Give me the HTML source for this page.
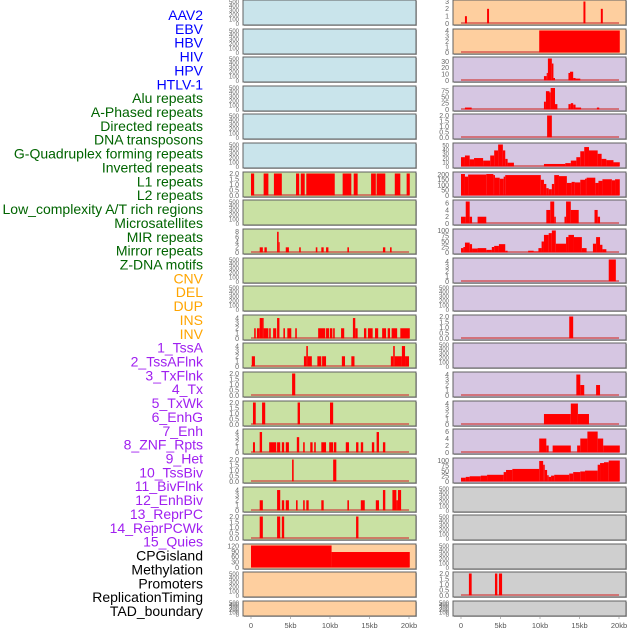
<!DOCTYPE html>
<html><head><meta charset="utf-8">
<style>
html,body{margin:0;padding:0;background:#fff;}
svg{display:block;font-family:"Liberation Sans",sans-serif;}
</style></head>
<body>
<svg id="chart" width="630" height="630" viewBox="0 0 630 630"></svg>
<script>
// ---- row labels ----
const labelTexts = ["AAV2","EBV","HBV","HIV","HPV","HTLV-1","Alu repeats","A-Phased repeats","Directed repeats","DNA transposons","G-Quadruplex forming repeats","Inverted repeats","L1 repeats","L2 repeats","Low_complexity A/T rich regions","Microsatellites","MIR repeats","Mirror repeats","Z-DNA motifs","CNV","DEL","DUP","INS","INV","1_TssA","2_TssAFlnk","3_TxFlnk","4_Tx","5_TxWk","6_EnhG","7_Enh","8_ZNF_Rpts","9_Het","10_TssBiv","11_BivFlnk","12_EnhBiv","13_ReprPC","14_ReprPCWk","15_Quies","CPGisland","Methylation","Promoters","ReplicationTiming","TAD_boundary"];
const labelGroups = ["v","v","v","v","v","v","r","r","r","r","r","r","r","r","r","r","r","r","r","s","s","s","s","s","c","c","c","c","c","c","c","c","c","c","c","c","c","c","c","k","k","k","k","k"];

// ---- x axis ----
const xTickValues = [0,5,10,15,20];
const xTickLabels = ["0","5kb","10kb","15kb","20kb"];

// ---- panels: left column ----
const leftBg = ["b","b","b","b","b","b","g","g","g","g","g","g","g","g","g","g","g","g","g","o","o","o"];
const leftYmax = [500,500,500,500,500,500,2,500,8.5,500,500,4.3,4.3,2,2,4.3,2,4.3,2,125,500,500];
const leftTicks = [
 [0,100,200,300,400,500],[0,100,200,300,400,500],[0,100,200,300,400,500],[0,100,200,300,400,500],[0,100,200,300,400,500],[0,100,200,300,400,500],
 ["0.0","0.5","1.0","1.5","2.0"],[0,100,200,300,400,500],[0,2,4,6,8],[0,100,200,300,400,500],[0,100,200,300,400,500],
 [0,1,2,3,4],[0,1,2,3,4],["0.0","0.5","1.0","1.5","2.0"],["0.0","0.5","1.0","1.5","2.0"],[0,1,2,3,4],["0.0","0.5","1.0","1.5","2.0"],[0,1,2,3,4],["0.0","0.5","1.0","1.5","2.0"],
 [0,30,60,90,120],[0,100,200,300,400,500],[0,100,200,300,400,500]];
const leftSegs = [
 [],[],[],[],[],[],
 [[0,0.4,2],[1.6,2.2,2],[2.9,3.9,2],[5.7,6.1,2],[6.3,6.8,2],[7,10.6,2],[11.6,12.7,2],[13,13.5,2],[15.2,15.8,2],[15.9,17,2],[18.2,18.9,2],[19.7,20.1,2]],
 [],
 [[1.1,1.5,2],[1.7,2,2],[3.3,3.5,8],[3.5,3.6,4],[4.4,4.8,2],[6.1,6.3,2],[8.2,8.4,2],[8.9,9.2,2],[9.5,9.8,2],[12.2,12.4,2],[16.7,17,2],[17.6,17.8,2]],
 [],[],
 [[0.4,0.6,2],[0.75,1.1,2],[1.1,1.4,4],[1.4,1.6,4],[1.6,2.2,2],[2.3,2.5,2],[2.8,3.2,2],[3.3,3.6,4],[4.1,4.3,2],[4.6,5.1,2],[5.6,5.8,2],[8.5,9.4,2],[9.5,9.9,2],[10,10.3,2],[10.4,10.6,2],[11.4,11.8,2],[12.9,13.2,4],[13.2,13.5,2],[14.3,14.6,2],[14.8,15.4,2],[15.7,16.1,2],[16.6,17.1,2],[17.3,17.6,2],[17.8,18.5,2],[18.9,20.1,2]],
 [[0.1,0.5,2],[6.7,7,2],[7,7.2,4],[7.2,7.7,2],[8.4,8.9,2],[9,9.5,2],[11.5,11.9,2],[12.7,13.1,2],[17.7,18,2],[18,18.2,4],[18.2,19.1,2],[19.1,19.5,4],[19.5,20,2]],
 [[5.2,5.6,2]],
 [[0.25,0.6,2],[1.4,1.8,2],[5.9,6.2,2],[10,10.4,2]],
 [[0.25,0.5,2],[1.1,1.4,4],[2.3,3.2,2],[3.3,3.7,2],[3.9,4.2,2],[4.4,4.8,2],[5.8,6.1,3],[6.6,6.8,2],[7.5,7.8,2],[8,8.2,2],[8.9,9.5,2],[9.9,10.4,2],[10.5,10.8,2],[12,12.4,2],[13.3,13.6,2],[13.9,14.2,2],[15.3,15.6,2],[15.9,16.2,4],[16.7,17,2]],
 [[5.2,5.4,2],[10.4,10.8,2]],
 [[1.1,1.5,2],[3.3,3.7,4],[3.9,4.2,2],[4.4,4.8,2],[5.7,5.9,2],[6.6,6.8,2],[7,7.3,2],[8.9,9.2,2],[12.2,12.4,2],[13.9,14.4,2],[15.8,16.2,2],[16.7,17,4],[17.9,18.4,4],[18.4,18.6,2],[18.6,19,4]],
 [[1.1,1.5,2],[3.3,3.7,2],[3.9,4.2,2],[13.3,13.6,2]],
 [[0,10.2,125],[10.2,20.1,88]],
 [],[]];

// ---- panels: right column ----
const rightBg = ["o","o","p","p","p","p","p","p","p","p","p","p","p","p","p","p","p","y","y","y","y","y"];
const rightYmax = [3,4,35,90,2,52,210,6.5,100,4.5,500,2,500,4.2,4.2,6.3,105,500,500,500,2,500];
const rightTicks = [
 [0,1,2,3],[0,1,2,3,4],[0,10,20,30],[0,25,50,75],["0.0","0.5","1.0","1.5","2.0"],[0,10,20,30,40,50],[0,50,100,150,200],[0,2,4,6],[0,25,50,75,100],[0,1,2,3,4],
 [0,100,200,300,400,500],["0.0","0.5","1.0","1.5","2.0"],[0,100,200,300,400,500],[0,1,2,3,4],[0,1,2,3,4],[0,2,4,6],[0,25,50,75,100],
 [0,100,200,300,400,500],[0,100,200,300,400,500],[0,100,200,300,400,500],["0.0","0.5","1.0","1.5","2.0"],[0,100,200,300,400,500]];
const rightSegs = [
 [[0.5,0.75,1],[3.3,3.55,2],[15.5,15.75,3],[17.7,17.95,2]],
 [[9.9,20.1,4]],
 [[10.5,10.85,7],[10.85,11,12],[11,11.5,35],[11.5,11.7,27],[11.7,11.9,4],[13.6,13.8,12],[13.8,14.2,14],[14.2,14.5,4],[14.5,15.1,3]],
 [[0.5,1.35,8],[10.5,10.75,32],[10.75,11.2,75],[11.2,11.35,70],[11.35,11.9,88],[11.9,12.2,22],[13.6,13.9,22],[13.9,14.2,26],[14.2,14.5,20],[14.5,15.2,8],[17.2,17.5,8]],
 [[10.9,11.5,2]],
 [[0,0.5,22],[0.5,1.1,26],[1.1,1.65,17],[1.65,2.8,20],[2.8,3.7,14],[3.7,4.2,26],[4.2,4.7,38],[4.7,5.3,52],[5.3,5.6,38],[5.6,5.9,18],[5.9,6.7,9],[10.5,13.2,6],[13.2,13.9,8],[13.9,14.6,14],[14.6,15.1,22],[15.1,15.6,36],[15.6,16.2,46],[16.2,17.3,38],[17.3,17.8,30],[17.8,18.4,18],[18.4,19.3,15],[19.3,20.1,10]],
 [[0,0.5,205],[0.5,0.9,180],[0.9,3.2,200],[3.2,4.1,205],[4.1,4.3,195],[4.3,4.9,170],[4.9,5.4,160],[5.4,5.6,180],[5.6,10.1,195],[10.1,10.5,150],[10.5,10.8,110],[10.8,11.1,70],[11.1,11.5,60],[11.5,11.8,110],[11.8,12.4,195],[12.4,13.4,185],[13.4,14,120],[14,14.4,130],[14.4,15.1,125],[15.1,15.7,150],[15.7,15.9,160],[15.9,17,170],[17,17.4,120],[17.4,17.9,140],[17.9,19.1,155],[19.1,19.5,145],[19.5,20.1,155]],
 [[0,0.6,2],[0.6,1.1,6.5],[1.1,1.4,2],[2.1,3.2,2],[10.8,11.3,4],[11.3,11.8,6.5],[11.8,12,2],[13.1,13.3,2],[13.3,13.9,6.5],[13.9,14.9,4],[16.9,17.3,4],[17.3,17.6,2]],
 [[0,0.3,20],[0.3,0.5,25],[0.5,1.1,45],[1.1,1.4,38],[1.4,2.1,18],[2.1,3.2,20],[3.2,3.9,12],[3.9,4.2,25],[4.2,4.8,30],[4.8,5.6,38],[5.6,5.9,8],[8.5,9.2,8],[9.2,9.8,5],[9.8,10.2,20],[10.2,10.5,50],[10.5,11.1,80],[11.1,11.5,88],[11.5,12,100],[12,13.3,40],[13.3,13.6,70],[13.6,14.3,80],[14.3,15.3,70],[15.3,15.9,20],[16.7,17.1,40],[17.1,17.6,70],[17.6,17.9,35],[17.9,18.4,15]],
 [[18.7,19.6,4.5]],
 [],
 [[13.7,14.2,2]],
 [],
 [[14.6,15.1,4],[15.1,15.6,2],[17.1,17.6,2]],
 [[10.5,13.9,2],[13.9,14.8,4],[14.8,16.2,2]],
 [[9.9,10.8,4],[10.8,11.1,2],[11.6,13.9,2],[14.7,15.1,2],[15.1,16,4],[16,17.3,6],[17.3,18,4],[18,20.1,2]],
 [[0,0.6,18],[0.6,1.1,22],[1.1,2.5,25],[2.5,3.3,28],[3.3,5.4,32],[5.4,5.7,45],[5.7,6.5,55],[6.5,9.9,60],[9.9,10.4,98],[10.4,10.6,80],[10.6,10.9,55],[10.9,11.1,30],[11.1,11.4,22],[11.4,11.8,28],[11.8,13.7,32],[13.7,14.2,38],[14.2,15.1,45],[15.1,15.7,48],[15.7,17.3,52],[17.3,17.6,80],[17.6,18.1,88],[18.1,18.7,92],[18.7,20.1,100]],
 [],[],[],
 [[1,1.35,2],[4.3,4.6,2],[4.8,5.2,2]],
 []];

const NS = "http://www.w3.org/2000/svg";
const svg = document.getElementById("chart");
function mk(tag, attrs, parent){
  const e = document.createElementNS(NS, tag);
  for (const k in attrs) e.setAttribute(k, attrs[k]);
  (parent||svg).appendChild(e);
  return e;
}
const bgColors = {b:"#c9e4eb", g:"#c9e1a3", o:"#fecf9f", p:"#d6c6e2", y:"#cfcfcf"};
const labelColors = {v:"#0000ff", r:"#006400", s:"#ffa500", c:"#a020f0", k:"#000000"};

labelTexts.forEach((t,i)=>{
  const el = mk("text",{x:203,y:20+i*13.86,"text-anchor":"end","font-size":"14",fill:labelColors[labelGroups[i]]});
  el.textContent = t;
  
  
});

function rowTop(i){ return Math.round(i*28.62); }
function rowH(i){ return i===21 ? 15 : 25; }

function drawPanel(col, i, bg, ymax, ticks, segs){
  const px = col===0 ? 243 : 453;
  const pw = 173;
  const x0 = col===0 ? 251 : 461;
  const xs = kb => x0 + kb*7.9;
  const top = rowTop(i), h = rowH(i);
  const yBot = top + h - 1.5, yTop = top + 1.5;
  const ys = v => yBot - (v/ymax)*(yBot-yTop);
  const g = mk("g",{});
  
  
  mk("rect",{x:px+1,y:top+1,width:pw,height:h,fill:"#b8b8b8"},g);
  const r = mk("rect",{x:px,y:top,width:pw,height:h,fill:bgColors[bg],stroke:"#606060","stroke-width":1},g);
  
  
  if (segs.length) {
    const bl = mk("line",{x1:xs(0),x2:xs(20),y1:yBot-0.5,y2:yBot-0.5,stroke:"#d04040","stroke-width":1.2},g);
    
    
  }
  segs.forEach(s=>{
    const yv = Math.max(ys(s[2]), top+0.5);
    const b = mk("rect",{x:xs(s[0]),y:yv,width:Math.max(1,xs(s[1])-xs(s[0])),height:yBot-yv,fill:"#ff0000"},g);
    
    
  });
  ticks.forEach(t=>{
    const v = parseFloat(t);
    const fs = (h<20||ticks.length>5) ? 6 : 7;
    const tx = mk("text",{x:px-4,y:ys(v)+2.3,"text-anchor":"end","font-size":fs,fill:"#666"},g);
    tx.textContent = t;
    
    
  });
  if (i===21) {
    xTickValues.forEach((v,k)=>{
      const xt = mk("text",{x:xs(v),y:628,"text-anchor":"middle","font-size":7.5,fill:"#555"},g);
      xt.textContent = xTickLabels[k];
      
      
      mk("line",{x1:xs(v),x2:xs(v),y1:617,y2:619,stroke:"#888","stroke-width":0.6},g);
    });
  }
}
for (let i=0;i<22;i++){
  drawPanel(0,i,leftBg[i],leftYmax[i],leftTicks[i],leftSegs[i]);
  drawPanel(1,i,rightBg[i],rightYmax[i],rightTicks[i],rightSegs[i]);
}
</script>
</body></html>
